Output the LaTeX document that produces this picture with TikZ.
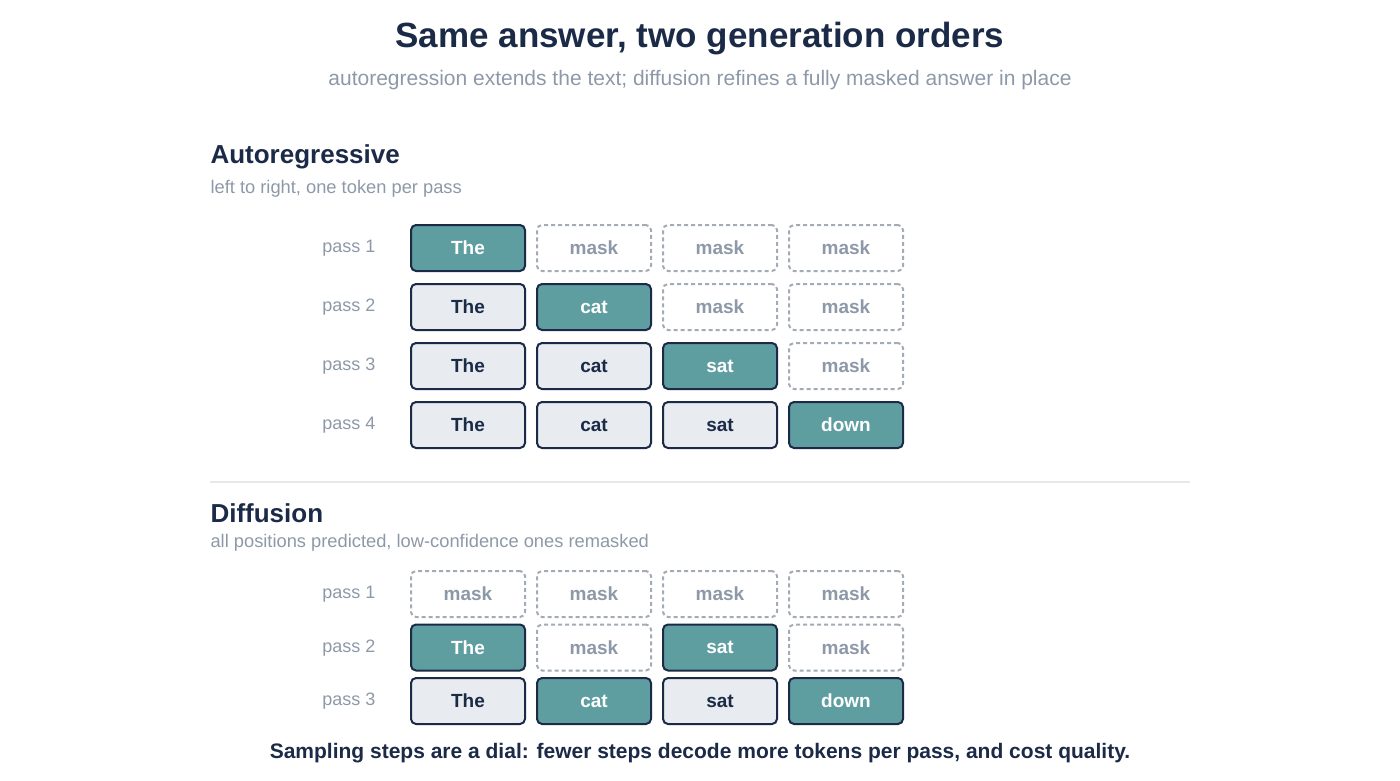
\documentclass[tikz,border=0pt]{standalone}
\usepackage{fontspec}
\setmainfont{Liberation Sans}
\definecolor{navy}{HTML}{1B2A47}
\definecolor{teal}{HTML}{5F9EA0}
\definecolor{cellbg}{HTML}{E8ECF0}
\definecolor{maskc}{HTML}{A3ABB4}
\definecolor{subg}{HTML}{8D99A8}
\definecolor{sep}{HTML}{E6E8EB}
\begin{document}
\begin{tikzpicture}[x=1pt,y=-1pt,
  cell/.style={draw=navy,line width=2pt,rounded corners=5pt,minimum width=114pt,minimum height=46pt,font=\fontsize{19}{22}\selectfont\bfseries,inner sep=0pt},
  D/.style={cell,fill=cellbg,text=navy},
  N/.style={cell,fill=teal,text=white},
  M/.style={cell,draw=maskc,dash pattern=on 4pt off 3pt,fill=white,text=subg},
  plabel/.style={anchor=east,text=subg,font=\fontsize{18}{21}\selectfont},
  head/.style={anchor=west,text=navy,font=\fontsize{26}{30}\selectfont\bfseries},
  sub/.style={anchor=west,text=subg,font=\fontsize{18.3}{21}\selectfont}]
\useasboundingbox (0,0) rectangle (1400,781);
\node[text=navy,font=\fontsize{35}{40}\selectfont\bfseries] (title) at (700,39) {Same answer, two generation orders};
\node[text=subg,font=\fontsize{21}{25}\selectfont] (subtitle) at (700,80) {autoregression extends the text; diffusion refines a fully masked answer in place};
\node[head] (h1) at (207,157) {Autoregressive};
\node[sub] (s1) at (207,189) {left to right, one token per pass};
\node[head] (h2) at (207,513) {Diffusion};
\node[sub] (s2) at (207,543) {all positions predicted, low-confidence ones remasked};
\draw[sep,line width=2pt] (210,482) -- (1190,482);
% Autoregressive
\foreach \r/\y in {1/248,2/307,3/366,4/425}
  \node[plabel] (ap\r) at (379,\y) {pass \r};
\foreach \r/\c/\s/\t [evaluate=\c as \x using 468+126*(\c-1)] in {
  1/1/N/The,1/2/M/mask,1/3/M/mask,1/4/M/mask,
  2/1/D/The,2/2/N/cat,2/3/M/mask,2/4/M/mask,
  3/1/D/The,3/2/D/cat,3/3/N/sat,3/4/M/mask,
  4/1/D/The,4/2/D/cat,4/3/D/sat,4/4/N/down}{
  \pgfmathsetmacro{\yy}{248+59*(\r-1)}
  \node[\s] (a\r\c) at (\x,\yy) {\t};
}
% Diffusion
\foreach \r/\y in {1/594,2/648,3/701}
  \node[plabel] (dp\r) at (379,\y) {pass \r};
\foreach \r/\c/\s/\t [evaluate=\c as \x using 468+126*(\c-1)] in {
  1/1/M/mask,1/2/M/mask,1/3/M/mask,1/4/M/mask,
  2/1/N/The,2/2/M/mask,2/3/N/sat,2/4/M/mask,
  3/1/D/The,3/2/N/cat,3/3/D/sat,3/4/N/down}{
  \pgfmathsetmacro{\yy}{594+53.5*(\r-1)}
  \node[\s] (d\r\c) at (\x,\yy) {\t};
}
\node[text=navy,font=\fontsize{21}{25}\selectfont\bfseries] (foot) at (700,753) {Sampling steps are a dial: fewer steps decode more tokens per pass, and cost quality.};
\end{tikzpicture}
\end{document}
